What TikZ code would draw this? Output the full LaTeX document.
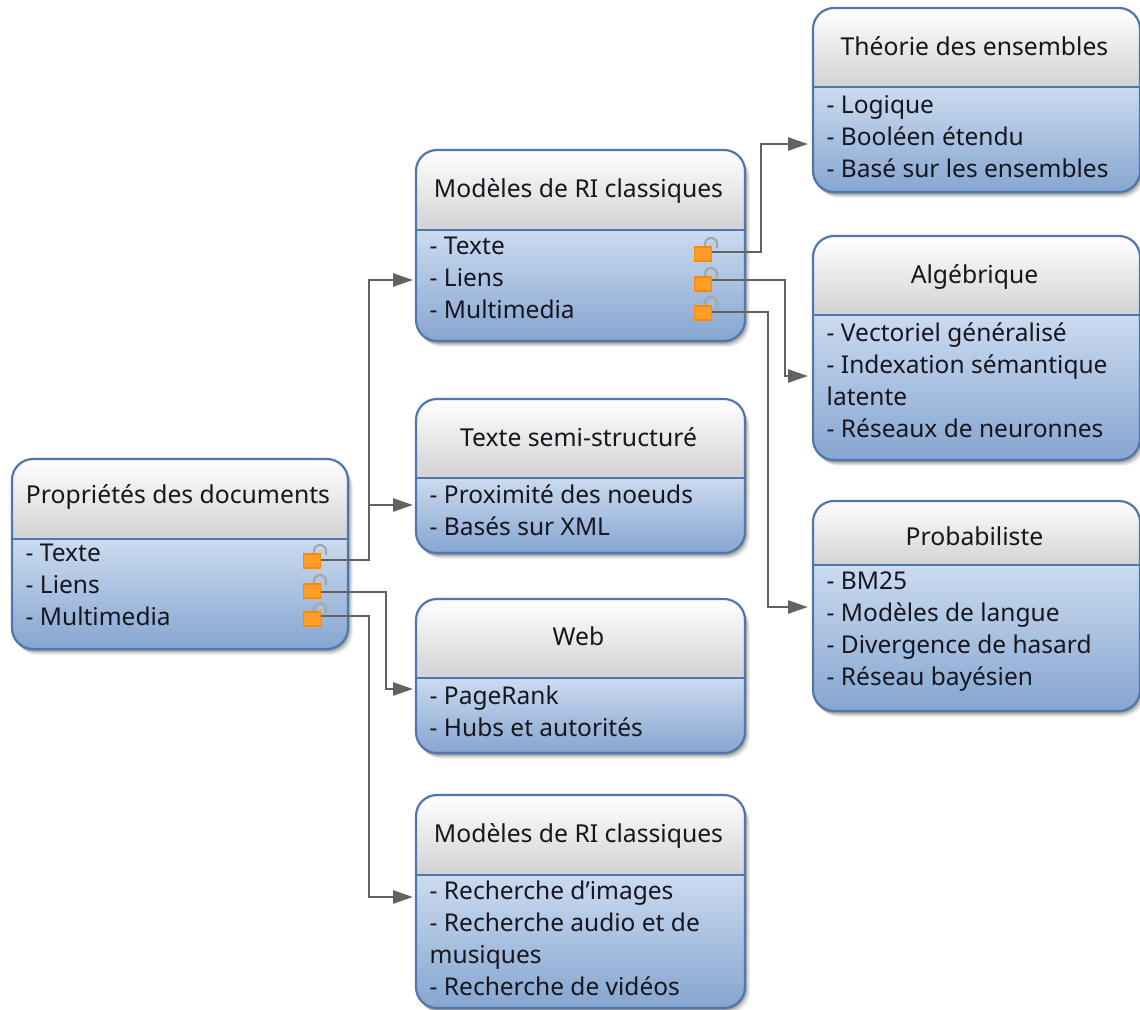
\documentclass[tikz,border=0pt]{standalone}
\usepackage{fontspec}
\setmainfont{Noto Sans}
\usetikzlibrary{arrows.meta}
\definecolor{edgeblue}{HTML}{4F77AB}
\definecolor{bodytop}{HTML}{CBDBF0}
\definecolor{bodybot}{HTML}{86A5D0}
\definecolor{headbot}{HTML}{D2D2D2}
\definecolor{linegray}{HTML}{626262}
\definecolor{inkdark}{HTML}{16161F}
\definecolor{lockfill}{HTML}{FF9F2A}
\definecolor{lockedge}{HTML}{FF8A00}
\tikzset{
  boxframe/.style={draw=edgeblue,line width=2.2pt,rounded corners=21pt,inner sep=0pt,outer sep=0pt},
  titletext/.style={text=inkdark,font=\fontsize{24.7}{30}\selectfont,inner sep=0pt,anchor=base},
  bodytext/.style={text=inkdark,font=\fontsize{24.5}{32}\selectfont,inner sep=0pt,align=left,anchor=north west},
  conn/.style={draw=linegray,line width=2.6pt,line join=miter,shorten >=3pt,-{Triangle[length=20pt,width=13pt]}},
  lockbody/.style={draw=lockedge,fill=lockfill,line width=1.2pt,minimum width=17pt,minimum height=14pt,inner sep=0pt,outer sep=0pt},
  shackle/.style={draw=gray!70,line width=2.2pt},
}
\def\bo{2}
% name x1 y1 x2 split y2 titleBaseline title body
\newcommand{\mybox}[9]{%
  \pgfmathsetmacro{\bw}{#4-#2}\pgfmathsetmacro{\bh}{#6-#3}%
  \pgfmathsetmacro{\bcx}{(#2+#4)/2}\pgfmathsetmacro{\bcy}{(#3+#6)/2}%
  \foreach \g/\o in {7/0.05,6/0.07,5/0.09,4/0.12,3/0.14}{%
    \fill[black,opacity=\o,rounded corners=22pt] (#2+\g-3,#3+\g-1) rectangle (#4+\g-2,#6+\g-1);}%
  \begin{scope}
    \clip[rounded corners=21pt] (#2,#3) rectangle (#4,#6);
    \shade[top color=white,bottom color=headbot] (#2,#3) rectangle (#4,#5);
    \shade[top color=bodytop,bottom color=bodybot] (#2,#5) rectangle (#4,#6);
    \draw[edgeblue,line width=2pt] (#2,#5) -- (#4,#5);
  \end{scope}
  \node[boxframe,minimum width=\bw pt,minimum height=\bh pt] (#1) at (\bcx,\bcy) {};%
  \node[titletext] (#1title) at (\bcx-2,#7) {#8};%
  \node[bodytext] (#1body) at (#2+13.5,#5+\bo) {\strut #9};%
}
\newcommand{\mylock}[3]{%
  \draw[shackle] (#2+2,#3-6) -- (#2+2,#3-10) arc[start angle=180,end angle=360,radius=6] -- (#2+14,#3-6);
  \draw[draw=gray!45,line width=1pt] (#2+7,#3-6) -- (#2+7,#3-10) arc[start angle=180,end angle=360,radius=1.5] -- (#2+10,#3-6);
  \node[lockbody] (#1) at (#2,#3) {};%
}
\begin{document}
\begin{tikzpicture}[x=1pt,y=-1pt]
\useasboundingbox (0,0) rectangle (1140,1009);
\def\bo{0}
\mybox{props}{12}{459}{348}{539}{649}{503}{Propriétés des documents}{- Texte\\- Liens\\- Multimedia}
\def\bo{2}
\mybox{modeles}{416}{150}{745}{230}{341}{197}{Modèles de RI classiques}{- Texte\\- Liens\\- Multimedia}
\def\bo{3}
\mybox{semi}{416}{399}{745}{478}{553}{446}{Texte semi-structuré}{- Proximité des noeuds\\- Basés sur XML}
\def\bo{4}
\mybox{web}{416}{599}{745}{678}{753}{645}{Web}{- PageRank\\- Hubs et autorités}
\def\bo{2}
\mybox{multi}{416}{795}{745}{875}{1008}{842}{Modèles de RI classiques}{- Recherche d'images\\- Recherche audio et de\\musiques\\- Recherche de vidéos}
\def\bo{4}
\mybox{ens}{813}{8}{1140}{87}{192}{55}{Théorie des ensembles}{- Logique\\- Booléen étendu\\- Basé sur les ensembles}
\def\bo{4}
\mybox{alg}{813}{236}{1140}{315}{460}{283}{Algébrique}{- Vectoriel généralisé\\- Indexation sémantique\\latente\\- Réseaux de neuronnes}
\def\bo{2}
\mybox{proba}{813}{501}{1140}{565}{711}{545}{Probabiliste}{- BM25\\- Modèles de langue\\- Divergence de hasard\\- Réseau bayésien}

\coordinate (inmodeles) at (416,280);
\coordinate (insemi) at (416,505);
\coordinate (inweb) at (416,689);
\coordinate (inmulti) at (416,897);
\coordinate (inens) at (811,144);
\coordinate (inalg) at (811,376);
\coordinate (inproba) at (811,607);
\coordinate (pa) at (312,560);
\coordinate (pb) at (312,592);
\coordinate (pc) at (312,616);
\coordinate (qa) at (703,252);
\coordinate (qb) at (703,280);
\coordinate (qc) at (703,312);

\mylock{la}{312}{561}
\mylock{lb}{312}{591}
\mylock{lc}{312}{619}
\mylock{ma}{703}{254}
\mylock{mb}{703}{284}
\mylock{mc}{703}{313}

\draw[conn] (la.east |- pa) -- (369,560) -- (369,280) -- (inmodeles);
\draw[conn] (369,505) -- (insemi);
\draw[conn] (lb.east |- pb) -- (386,592) -- (386,689) -- (inweb);
\draw[conn] (lc.east |- pc) -- (369,616) -- (369,897) -- (inmulti);
\draw[conn] (ma.east |- qa) -- (761,252) -- (761,144) -- (inens);
\draw[conn] (mb.east |- qb) -- (785,280) -- (785,376) -- (inalg);
\draw[conn] (mc.east |- qc) -- (768,312) -- (768,607) -- (inproba);
\end{tikzpicture}
\end{document}
